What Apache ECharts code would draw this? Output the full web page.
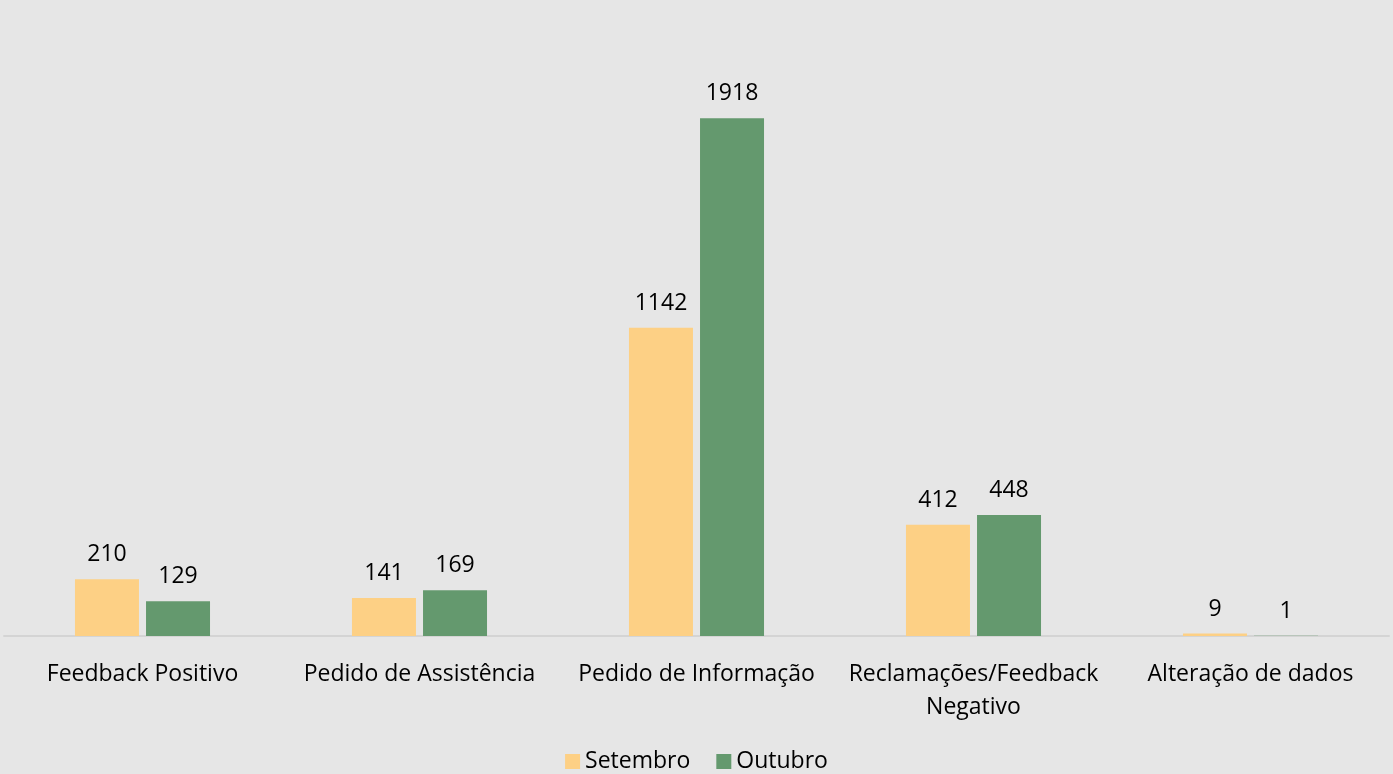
<!DOCTYPE html>
<html><head><meta charset="utf-8">
<script src="https://cdn.jsdelivr.net/npm/echarts@6/dist/echarts.min.js"></script>
<style>html,body{margin:0;padding:0;background:#e6e6e6;}#c{width:1393px;height:774px;}</style>
</head><body><div id="c"></div>
<script>
const categories = ['Feedback Positivo', 'Pedido de Assistência', 'Pedido de Informação', 'Reclamações/Feedback\nNegativo', 'Alteração de dados'];
const setembro = [210, 141, 1142, 412, 9];
const outubro = [129, 169, 1918, 448, 1];
const seriesNames = ['Setembro', 'Outubro'];

const font = '"Open Sans", "Noto Sans", sans-serif';
const chart = echarts.init(document.getElementById('c'));
const labelStyle = {show: true, position: 'top', distance: 13, color: '#000', fontSize: 23, fontFamily: font};
chart.setOption({
  backgroundColor: '#e6e6e6',
  animation: false,
  grid: {left: 4, right: 4, top: 96, bottom: 138},
  legend: {
    bottom: -4, left: 'center', itemWidth: 15, itemHeight: 15, itemGap: 26,
    textStyle: {fontSize: 23, fontFamily: font, color: '#000'},
    icon: 'rect',
    data: seriesNames
  },
  xAxis: {
    type: 'category', data: categories,
    axisLine: {lineStyle: {color: '#d4d4d4', width: 2}},
    axisTick: {show: false},
    axisLabel: {color: '#000', fontSize: 23, fontFamily: font, margin: 22, lineHeight: 33, interval: 0}
  },
  yAxis: {type: 'value', min: 0, max: 2000, show: false, splitLine: {show: false}},
  series: [
    {name: seriesNames[0], type: 'bar', data: setembro, barWidth: 64, barGap: '11%', itemStyle: {color: '#fdd085'}, label: labelStyle},
    {name: seriesNames[1], type: 'bar', data: outubro, barWidth: 64, barGap: '11%', itemStyle: {color: '#64996e'}, label: labelStyle}
  ]
});
</script></body></html>
